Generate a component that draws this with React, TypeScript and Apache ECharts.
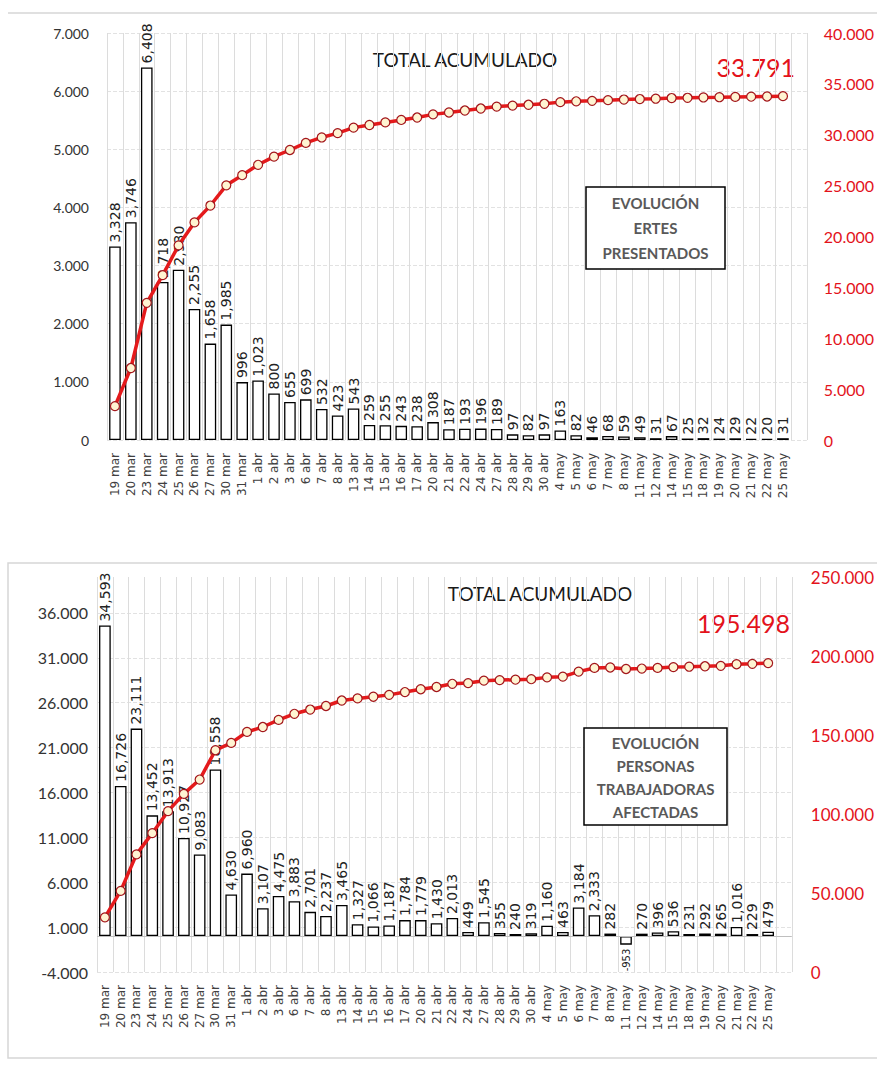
import React, { useEffect, useRef } from "react";
import * as echarts from "echarts";

const categories = [
  "19 mar", "20 mar", "23 mar", "24 mar", "25 mar", "26 mar", "27 mar", "30 mar", "31 mar",
  "1 abr", "2 abr", "3 abr", "6 abr", "7 abr", "8 abr", "13 abr", "14 abr", "15 abr", "16 abr",
  "17 abr", "20 abr", "21 abr", "22 abr", "24 abr", "27 abr", "28 abr", "29 abr", "30 abr",
  "4 may", "5 may", "6 may", "7 may", "8 may", "11 may", "12 may", "14 may", "15 may", "18 may",
  "19 may", "20 may", "21 may", "22 may", "25 may",
];

const ertesDaily = [
  3328, 3746, 6408, 2718, 2930, 2255, 1658, 1985, 996, 1023, 800, 655, 699, 532, 423, 543,
  259, 255, 243, 238, 308, 187, 193, 196, 189, 97, 82, 97, 163, 82, 46, 68, 59, 49, 31, 67,
  25, 32, 24, 29, 22, 20, 31,
];

const ertesTotal = [
  3328, 7074, 13482, 16200, 19130, 21385, 23043, 25028, 26024, 27047, 27847, 28502, 29201,
  29733, 30156, 30699, 30958, 31213, 31456, 31694, 32002, 32189, 32382, 32578, 32767, 32864,
  32946, 33043, 33206, 33288, 33334, 33402, 33461, 33510, 33541, 33608, 33633, 33665, 33689,
  33718, 33740, 33760, 33791,
];

const workersDaily = [
  34593, 16726, 23111, 13452, 13913, 10927, 9083, 18558, 4630, 6960, 3107, 4475, 3883, 2701,
  2237, 3465, 1327, 1066, 1187, 1784, 1779, 1430, 2013, 449, 1545, 355, 240, 319, 1160, 463,
  3184, 2333, 282, -953, 270, 396, 536, 231, 292, 265, 1016, 229, 479,
];

const workersTotal = [
  34593, 51319, 74430, 87882, 101795, 112722, 121805, 140363, 144993, 151953, 155060, 159535,
  163418, 166119, 168356, 171821, 173148, 174214, 175401, 177185, 178964, 180394, 182407,
  182856, 184401, 184756, 184996, 185315, 186475, 186938, 190122, 192455, 192737, 191784,
  192054, 192450, 192986, 193217, 193509, 193774, 194790, 195019, 195498,
];

const workersLeftTicks = [-4000, 1000, 6000, 11000, 16000, 21000, 26000, 31000, 36000];

const dotFmt = (v: number) => {
  const s = String(Math.abs(Math.round(v))).replace(/\B(?=(\d{3})+(?!\d))/g, ".");
  return (v < 0 ? "-" : "") + s;
};
const commaFmt = (v: number) => {
  const s = String(Math.abs(Math.round(v))).replace(/\B(?=(\d{3})+(?!\d))/g, ",");
  return (v < 0 ? "-" : "") + s;
};

const RED = "#e3121b";
const LINE_RED = "#e41a1c";

export default function App() {
  const ref = useRef<HTMLDivElement>(null);

  useEffect(() => {
    if (!ref.current) return;
    const chart = echarts.init(ref.current, null, { renderer: "svg" });

    const xCats = [...categories, ""];

    const xAxisCommon = {
      type: "category" as const,
      data: xCats,
      axisTick: { show: false },
      axisLine: { show: false },
      axisLabel: {
        interval: 0,
        rotate: 90,
        fontFamily: "DejaVu Sans",
        fontSize: 12,
        color: "#404040",
        margin: 13,
      },
      splitLine: { show: true, interval: 0, lineStyle: { color: "#dcdcdc", width: 1 } },
    };

    const barLabel = {
      show: true,
      position: "top",
      rotate: 90,
      align: "left",
      verticalAlign: "middle",
      distance: 4,
      fontFamily: "DejaVu Sans",
      fontSize: 14,
      color: "#222",
      formatter: (p: any) => commaFmt(p.value),
    };

    const barStyle = { color: "#ffffff", borderColor: "#000000", borderWidth: 1.3 };

    const lineCommon = {
      type: "line" as const,
      symbol: "circle",
      symbolSize: 9,
      lineStyle: { color: LINE_RED, width: 3.5 },
      itemStyle: { color: "#fff4d2", borderColor: "#a3161b", borderWidth: 1.2 },
      z: 5,
    };

    const option: any = {
      animation: false,
      backgroundColor: "#ffffff",
      grid: [
        { left: 107, top: 33, width: 702, height: 407 },
        { left: 97, top: 577, width: 697, height: 395 },
      ],
      xAxis: [
        { ...xAxisCommon, gridIndex: 0 },
        { ...xAxisCommon, gridIndex: 1 },
      ],
      yAxis: [
        {
          gridIndex: 0,
          type: "value",
          min: 0,
          max: 7000,
          interval: 1000,
          axisLine: { show: false },
          axisTick: { show: false },
          axisLabel: { formatter: dotFmt, fontFamily: "Lato", fontSize: 14, color: "#333", margin: 18 },
          splitLine: { lineStyle: { color: "#e2e2e2", type: "dashed" } },
        },
        {
          gridIndex: 0,
          type: "value",
          position: "right",
          min: 0,
          max: 40000,
          interval: 5000,
          axisLine: { show: false },
          axisTick: { show: false },
          axisLabel: { formatter: dotFmt, fontFamily: "Lato", fontSize: 16, color: RED, margin: 17 },
          splitLine: { show: false },
        },
        {
          gridIndex: 1,
          type: "value",
          min: -4000,
          max: 40000,
          axisLine: { show: false },
          axisTick: { show: false, customValues: workersLeftTicks },
          axisLabel: {
            customValues: workersLeftTicks,
            formatter: dotFmt,
            fontFamily: "Lato",
            fontSize: 16,
            color: "#333",
            margin: 9,
          },
          splitLine: { lineStyle: { color: "#e2e2e2", type: "dashed" } },
        },
        {
          gridIndex: 1,
          type: "value",
          position: "right",
          min: 0,
          max: 250000,
          interval: 50000,
          axisLine: { show: false },
          axisTick: { show: false },
          axisLabel: { formatter: dotFmt, fontFamily: "Lato", fontSize: 17, color: RED, margin: 19 },
          splitLine: { show: false },
        },
      ],
      series: [
        {
          type: "bar",
          xAxisIndex: 0,
          yAxisIndex: 0,
          data: ertesDaily,
          barCategoryGap: "27%",
          itemStyle: barStyle,
          label: barLabel,
          z: 2,
        },
        { ...lineCommon, xAxisIndex: 0, yAxisIndex: 1, data: ertesTotal },
        {
          type: "bar",
          xAxisIndex: 1,
          yAxisIndex: 2,
          data: workersDaily.map((v) =>
            v < 0
              ? { value: v, label: { position: "bottom", align: "right", fontSize: 10 } }
              : v
          ),
          barCategoryGap: "26%",
          itemStyle: barStyle,
          label: barLabel,
          z: 2,
          markLine: {
            silent: true,
            symbol: "none",
            label: { show: false },
            lineStyle: { color: "#bfbfbf", width: 1, type: "solid" },
            data: [{ yAxis: 0 }],
          },
        },
        { ...lineCommon, xAxisIndex: 1, yAxisIndex: 3, data: workersTotal },
      ],
      graphic: [
        { type: "line", shape: { x1: 8, y1: 13, x2: 877, y2: 13 }, style: { stroke: "#d6d6d6", lineWidth: 1.5 }, silent: true },
        { type: "rect", shape: { x: 8, y: 563, width: 880, height: 495 }, style: { fill: "none", stroke: "#d6d6d6", lineWidth: 1.5 }, silent: true },
        {
          type: "text",
          x: 465,
          y: 59,
          style: { text: "TOTAL ACUMULADO", fontFamily: "Lato", fontSize: 19, fill: "#1a1a1a", textAlign: "center", textVerticalAlign: "middle" },
        },
        {
          type: "text",
          x: 795,
          y: 67,
          style: { text: "33.791", fontFamily: "Lato", fontSize: 25, fill: RED, textAlign: "right", textVerticalAlign: "middle" },
        },
        {
          type: "rect",
          shape: { x: 586, y: 187, width: 139, height: 82 },
          style: { fill: "#ffffff", stroke: "#000000", lineWidth: 1.5 },
          z: 10,
        },
        {
          type: "text",
          x: 655.5,
          y: 228,
          z: 11,
          style: {
            text: "EVOLUCIÓN\nERTES\nPRESENTADOS",
            fontFamily: "Lato",
            fontWeight: "bold",
            fontSize: 15,
            lineHeight: 25,
            fill: "#595959",
            textAlign: "center",
            textVerticalAlign: "middle",
          },
        },
        {
          type: "text",
          x: 540,
          y: 593,
          style: { text: "TOTAL ACUMULADO", fontFamily: "Lato", fontSize: 19, fill: "#1a1a1a", textAlign: "center", textVerticalAlign: "middle" },
        },
        {
          type: "text",
          x: 790,
          y: 623,
          style: { text: "195.498", fontFamily: "Lato", fontSize: 25, fill: RED, textAlign: "right", textVerticalAlign: "middle" },
        },
        {
          type: "rect",
          shape: { x: 584, y: 728, width: 143, height: 97 },
          style: { fill: "#ffffff", stroke: "#000000", lineWidth: 1.5 },
          z: 10,
        },
        {
          type: "text",
          x: 655.5,
          y: 777,
          z: 11,
          style: {
            text: "EVOLUCIÓN\nPERSONAS\nTRABAJADORAS\nAFECTADAS",
            fontFamily: "Lato",
            fontWeight: "bold",
            fontSize: 15,
            lineHeight: 23,
            fill: "#595959",
            textAlign: "center",
            textVerticalAlign: "middle",
          },
        },
      ],
    };

    chart.setOption(option);
    return () => chart.dispose();
  }, []);

  return (
    <div
      ref={ref}
      style={{ position: "absolute", left: 0, top: 0, width: 877, height: 1067, overflow: "hidden" }}
    />
  );
}
